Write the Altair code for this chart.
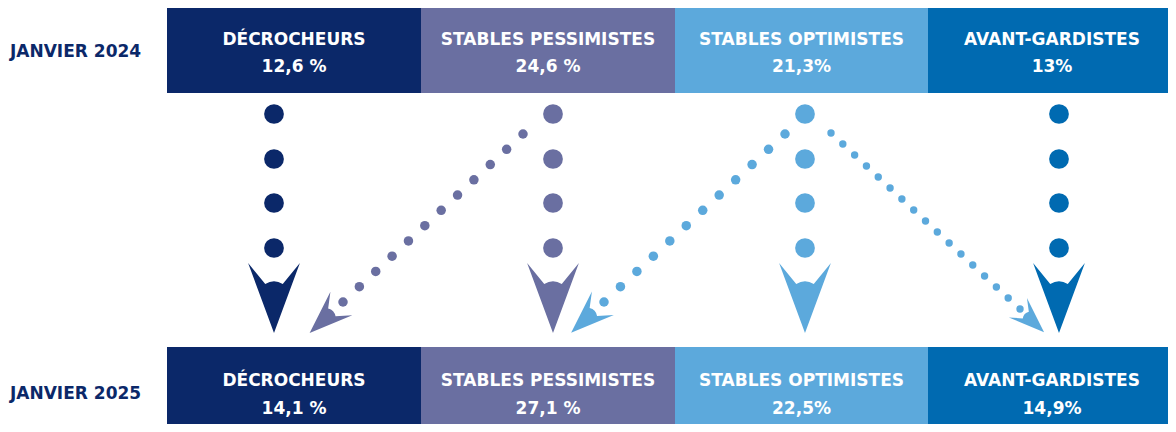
import altair as alt
import pandas as pd
import numpy as np

# ---------------- data ----------------
segments = ["DÉCROCHEURS", "STABLES PESSIMISTES", "STABLES OPTIMISTES", "AVANT-GARDISTES"]
shares_2024 = ["12,6 %", "24,6 %", "21,3%", "13%"]
shares_2025 = ["14,1 %", "27,1 %", "22,5%", "14,9%"]
periods = ["JANVIER 2024", "JANVIER 2025"]
segment_colors = ["#0B2869", "#6A6FA1", "#5CA9DC", "#006AB1"]
flows_from = ["STABLES PESSIMISTES", "STABLES OPTIMISTES", "STABLES OPTIMISTES"]
flows_to = ["DÉCROCHEURS", "STABLES PESSIMISTES", "AVANT-GARDISTES"]

# ---------------- layout (pixel coordinates of the 1176x432 page) ----------------
W, H = 1160, 416
col_edges = [167, 421, 675, 928, 1176]
stem_x = [274, 553, 805, 1059]
stem_dot_y = [114, 159, 203, 248]
head_y = 298
row_layout = {  # top, bottom, name y, share y, period label y
    periods[0]: (5, 93, 40, 67, 52),
    periods[1]: (347, 432, 381, 409, 394),
}
flow_layout = [
    dict(start=(523, 134), end=(343, 302), n=12, dot=90, head=(325.5, 318.3), angle=47, hsize=1885),
    dict(start=(785, 134), end=(604, 302), n=12, dot=90, head=(587, 318), angle=47, hsize=1885),
    dict(start=(831, 133), end=(1020, 309), n=17, dot=55, head=(1031, 320), angle=313, hsize=1280),
]
HEAD_PATH = "M -0.74 -1 L -0.25 -0.4 Q 0 -0.56 0.25 -0.4 L 0.74 -1 L 0 1 Z"

color_of = dict(zip(segments, segment_colors))
shares = {periods[0]: shares_2024, periods[1]: shares_2025}

# ---------------- tables ----------------
rect_rows, text_rows, label_rows = [], [], []
for p in periods:
    top, bot, ny, sy, ly = row_layout[p]
    label_rows.append(dict(x=10, y=ly, text=p))
    for i, s in enumerate(segments):
        rect_rows.append(dict(x=col_edges[i], x2=col_edges[i + 1], y=top, y2=bot, color=segment_colors[i]))
        cx = (col_edges[i] + col_edges[i + 1]) / 2
        text_rows.append(dict(x=cx, y=ny, text=s))
        text_rows.append(dict(x=cx, y=sy, text=shares[p][i]))

dot_rows, head_rows = [], []
for i, s in enumerate(segments):
    for yy in stem_dot_y:
        dot_rows.append(dict(x=stem_x[i], y=yy, size=390, color=segment_colors[i]))
    head_rows.append(dict(x=stem_x[i], y=head_y, angle=0, size=4900, color=segment_colors[i]))

for f, t, g in zip(flows_from, flows_to, flow_layout):
    c = color_of[f]
    xs = np.linspace(g["start"][0], g["end"][0], g["n"])
    ys = np.linspace(g["start"][1], g["end"][1], g["n"])
    for xx, yy in zip(xs, ys):
        dot_rows.append(dict(x=float(xx), y=float(yy), size=g["dot"], color=c))
    head_rows.append(dict(x=g["head"][0], y=g["head"][1], angle=g["angle"], size=g["hsize"], color=c))

rects = pd.DataFrame(rect_rows)
texts = pd.DataFrame(text_rows)
labels = pd.DataFrame(label_rows)
dots = pd.DataFrame(dot_rows)
heads = pd.DataFrame(head_rows)

XS = alt.Scale(domain=[8, 8 + W], nice=False, zero=False)
YS = alt.Scale(domain=[8, 8 + H], nice=False, zero=False, reverse=True)

def X(f="x"):
    return alt.X(f"{f}:Q", scale=XS, axis=None)

def Y(f="y"):
    return alt.Y(f"{f}:Q", scale=YS, axis=None)

rect_layer = alt.Chart(rects).mark_rect(clip=True).encode(
    x=X(), x2="x2:Q", y=Y(), y2="y2:Q", color=alt.Color("color:N", scale=None)
)

label_layer = alt.Chart(labels).mark_text(
    align="left", baseline="middle", font="DejaVu Sans", fontWeight="bold",
    fontSize=17, color="#0B2869"
).encode(x=X(), y=Y(), text="text:N")

text_layer = alt.Chart(texts).mark_text(
    align="center", baseline="middle", font="DejaVu Sans", fontWeight="bold",
    fontSize=17, color="white"
).encode(x=X(), y=Y(), text="text:N")

dot_layer = alt.Chart(dots).mark_circle(opacity=1).encode(
    x=X(), y=Y(), size=alt.Size("size:Q", scale=None), color=alt.Color("color:N", scale=None)
)

head_layer = alt.Chart(heads).mark_point(
    shape=HEAD_PATH, filled=True, opacity=1, strokeWidth=0
).encode(
    x=X(), y=Y(),
    size=alt.Size("size:Q", scale=None),
    angle=alt.Angle("angle:Q", scale=None),
    color=alt.Color("color:N", scale=None),
)

chart = alt.layer(rect_layer, label_layer, text_layer, dot_layer, head_layer).properties(
    width=W, height=H, padding=0,
    autosize=alt.AutoSizeParams(type="fit", contains="padding"),
    background="white",
).configure_view(strokeWidth=0)

chart.save("out.html", embed_options={"renderer": "svg", "actions": False})
